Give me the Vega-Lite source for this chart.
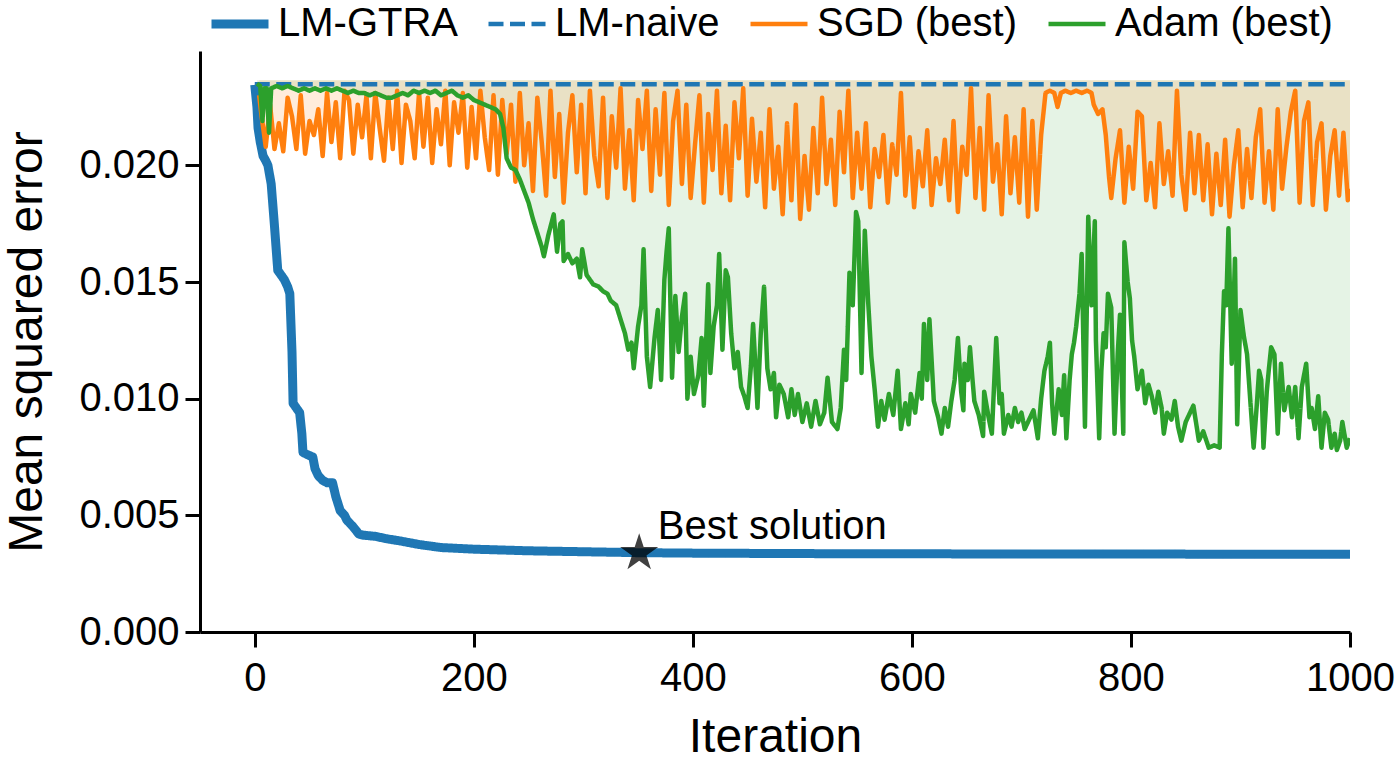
{
  "$schema": "https://vega.github.io/schema/vega-lite/v6.json",
  "width": 1150,
  "height": 581,
  "autosize": {"type": "none"},
  "padding": {"left": 200, "top": 51, "right": 48, "bottom": 136},
  "background": "white",
  "config": {
    "font": "Liberation Sans",
    "view": {"stroke": null},
    "axis": {
      "domainColor": "black", "domainWidth": 3, "tickColor": "black", "tickWidth": 3, "tickSize": 15,
      "labelFontSize": 40, "labelColor": "black", "titleFontSize": 48, "titleFontWeight": "normal",
      "titleColor": "black", "grid": false, "labelFont": "Liberation Sans", "titleFont": "Liberation Sans"
    },
    "legend": {
      "orient": "none", "legendX": 20, "legendY": -47, "direction": "horizontal",
      "symbolType": "stroke", "symbolSize": 3249, "symbolStrokeWidth": 4.5, "labelFontSize": 40,
      "labelOffset": 18, "columnPadding": 21, "padding": 0, "labelColor": "black", "labelFont": "Liberation Sans",
      "labelLimit": 400
    }
  },
  "datasets": {
    "gtra": [
      {"x":0,"y":0.02345},{"x":2,"y":0.0225},{"x":3,"y":0.0216},{"x":5,"y":0.0210},{"x":7.6,"y":0.0204},{"x":10,"y":0.0202},{"x":12,"y":0.0200},{"x":15,"y":0.0192},{"x":18,"y":0.0174},{"x":21,"y":0.0155},{"x":24,"y":0.0153},{"x":27,"y":0.0151},{"x":30,"y":0.0148},{"x":32,"y":0.0145},{"x":34,"y":0.0120},{"x":35,"y":0.0098},{"x":38,"y":0.0096},{"x":41,"y":0.0094},{"x":43,"y":0.0085},{"x":44,"y":0.0077},{"x":48,"y":0.0076},{"x":53,"y":0.0075},{"x":55,"y":0.0070},{"x":58,"y":0.0067},{"x":62,"y":0.0065},{"x":66,"y":0.0064},{"x":71,"y":0.0064},{"x":74,"y":0.0058},{"x":78,"y":0.0052},{"x":82,"y":0.0050},{"x":84,"y":0.0048},{"x":90,"y":0.0045},{"x":95,"y":0.0042},{"x":99,"y":0.00415},{"x":110,"y":0.0041},{"x":120,"y":0.0040},{"x":133,"y":0.0039},{"x":150,"y":0.00375},{"x":170,"y":0.00362},{"x":200,"y":0.00355},{"x":250,"y":0.00348},{"x":300,"y":0.00344},{"x":350,"y":0.0034},{"x":400,"y":0.00338},{"x":500,"y":0.00336},{"x":600,"y":0.00335},{"x":800,"y":0.00334},{"x":1000,"y":0.00333}
    ],
    "naive": [{"x":0,"y":0.02347},{"x":1000,"y":0.02347}],
    "sgd": [
      {"x":4,"y":0.0230},{"x":6,"y":0.0222},{"x":10,"y":0.0208},{"x":14,"y":0.0226},{"x":18,"y":0.0207},{"x":22,"y":0.0218},{"x":26,"y":0.0206},{"x":30,"y":0.0229},{"x":34,"y":0.0221},{"x":38,"y":0.0207},{"x":42,"y":0.0230},{"x":46,"y":0.0205},{"x":50,"y":0.0219},{"x":54,"y":0.0213},{"x":58,"y":0.0224},{"x":62,"y":0.0204},{"x":66,"y":0.0231},{"x":70,"y":0.0210},{"x":74,"y":0.0227},{"x":78,"y":0.0203},{"x":82,"y":0.0232},{"x":86,"y":0.0228},{"x":90,"y":0.0205},{"x":94,"y":0.0226},{"x":98,"y":0.0212},{"x":102,"y":0.0230},{"x":106,"y":0.0203},{"x":110,"y":0.0231},{"x":114,"y":0.0216},{"x":118,"y":0.0202},{"x":122,"y":0.0229},{"x":126,"y":0.0207},{"x":130,"y":0.0232},{"x":134,"y":0.0201},{"x":138,"y":0.0226},{"x":142,"y":0.0219},{"x":146,"y":0.0203},{"x":150,"y":0.0231},{"x":154,"y":0.0208},{"x":158,"y":0.0229},{"x":162,"y":0.0201},{"x":166,"y":0.0224},{"x":170,"y":0.0209},{"x":174,"y":0.0232},{"x":178,"y":0.0200},{"x":182,"y":0.0227},{"x":186,"y":0.0214},{"x":190,"y":0.0231},{"x":194,"y":0.0199},{"x":198,"y":0.0225},{"x":202,"y":0.0203},{"x":206,"y":0.0232},{"x":210,"y":0.0212},{"x":214,"y":0.0198},{"x":218,"y":0.0230},{"x":222,"y":0.0196},{"x":226,"y":0.0228},
      {"x":230,"y":0.0205},{"x":234,"y":0.0226},{"x":238,"y":0.0193},{"x":242,"y":0.0231},{"x":246,"y":0.0200},{"x":250,"y":0.0218},{"x":254,"y":0.0189},{"x":258,"y":0.0229},{"x":262,"y":0.0210},{"x":266,"y":0.0187},{"x":270,"y":0.0232},{"x":274,"y":0.0195},{"x":278,"y":0.0222},{"x":282,"y":0.0184},{"x":286,"y":0.0214},{"x":290,"y":0.0230},{"x":294,"y":0.0197},{"x":298,"y":0.0226},{"x":302,"y":0.0188},{"x":306,"y":0.0232},{"x":310,"y":0.0204},{"x":314,"y":0.0191},{"x":318,"y":0.0229},{"x":322,"y":0.0186},{"x":326,"y":0.0221},{"x":330,"y":0.0199},{"x":334,"y":0.0233},{"x":338,"y":0.0190},{"x":342,"y":0.0215},{"x":346,"y":0.0185},{"x":350,"y":0.0228},{"x":354,"y":0.0207},{"x":358,"y":0.0232},{"x":362,"y":0.0189},{"x":366,"y":0.0224},{"x":370,"y":0.0196},{"x":374,"y":0.0231},{"x":378,"y":0.0183},{"x":382,"y":0.0219},{"x":386,"y":0.0232},{"x":390,"y":0.0192},{"x":394,"y":0.0226},{"x":398,"y":0.0186},{"x":402,"y":0.0209},{"x":406,"y":0.0230},{"x":410,"y":0.0184},{"x":414,"y":0.0222},{"x":418,"y":0.0198},{"x":422,"y":0.0232},{"x":426,"y":0.0188},{"x":430,"y":0.0217},{"x":434,"y":0.0185},{"x":438,"y":0.0227},{"x":442,"y":0.0203},{"x":446,"y":0.0233},{"x":450,"y":0.0187},{"x":454,"y":0.0220},{"x":458,"y":0.0193},{"x":462,"y":0.0214},{"x":466,"y":0.0182},{"x":470,"y":0.0224},{"x":474,"y":0.0190},{"x":478,"y":0.0208},{"x":482,"y":0.0179},{"x":486,"y":0.0218},{"x":490,"y":0.0185},{"x":494,"y":0.0226},{"x":498,"y":0.0177},{"x":502,"y":0.0204},{"x":506,"y":0.0181},{"x":510,"y":0.0216},{"x":514,"y":0.0188},{"x":518,"y":0.0229},{"x":522,"y":0.0192},{"x":526,"y":0.0211},{"x":530,"y":0.0183},{"x":534,"y":0.0223},{"x":538,"y":0.0197},{"x":542,"y":0.0232},{"x":546,"y":0.0186},{"x":550,"y":0.0214},{"x":554,"y":0.0190},{"x":558,"y":0.0218},{"x":562,"y":0.0182},{"x":566,"y":0.0207},{"x":570,"y":0.0195},{"x":574,"y":0.0213},{"x":578,"y":0.0184},{"x":582,"y":0.0209},{"x":586,"y":0.0196},{"x":590,"y":0.0231},{"x":594,"y":0.0187},{"x":598,"y":0.0212},{"x":602,"y":0.0182},{"x":606,"y":0.0206},{"x":610,"y":0.0191},{"x":614,"y":0.0215},{"x":618,"y":0.0183},{"x":622,"y":0.0203},{"x":626,"y":0.0192},{"x":630,"y":0.0211},{"x":634,"y":0.0185},{"x":638,"y":0.0219},{"x":642,"y":0.0180},{"x":646,"y":0.0208},{"x":650,"y":0.0196},{"x":654,"y":0.0233},{"x":658,"y":0.0186},{"x":662,"y":0.0216},{"x":666,"y":0.0181},{"x":670,"y":0.0230},{"x":674,"y":0.0193},{"x":678,"y":0.0209},{"x":682,"y":0.0179},{"x":686,"y":0.0221},{"x":690,"y":0.0188},{"x":694,"y":0.0212},{"x":698,"y":0.0184},{"x":702,"y":0.0224},{"x":706,"y":0.0178},{"x":710,"y":0.0219},{"x":714,"y":0.0181},{"x":718,"y":0.0213},
      {"x":722,"y":0.0231},{"x":726,"y":0.0232},{"x":730,"y":0.0231},{"x":733,"y":0.0225},{"x":736,"y":0.0231},{"x":740,"y":0.0232},{"x":745,"y":0.0231},{"x":750,"y":0.0232},{"x":755,"y":0.0231},{"x":760,"y":0.0232},{"x":764,"y":0.0231},{"x":766,"y":0.0226},{"x":770,"y":0.0222},{"x":774,"y":0.0224},{"x":777,"y":0.0213},{"x":780,"y":0.0195},
      {"x":782,"y":0.0186},{"x":786,"y":0.0203},{"x":790,"y":0.0215},{"x":794,"y":0.0184},{"x":798,"y":0.0208},{"x":802,"y":0.0190},{"x":806,"y":0.0223},{"x":810,"y":0.0221},{"x":814,"y":0.0185},{"x":818,"y":0.0201},{"x":822,"y":0.0182},{"x":826,"y":0.0218},{"x":830,"y":0.0192},{"x":834,"y":0.0206},{"x":838,"y":0.0187},{"x":842,"y":0.0232},{"x":846,"y":0.0196},{"x":850,"y":0.0181},{"x":854,"y":0.0214},{"x":858,"y":0.0188},{"x":862,"y":0.0213},{"x":866,"y":0.0185},{"x":870,"y":0.0209},{"x":874,"y":0.0179},{"x":878,"y":0.0205},{"x":882,"y":0.0183},{"x":886,"y":0.0211},{"x":890,"y":0.0178},{"x":894,"y":0.0200},{"x":898,"y":0.0215},{"x":902,"y":0.0182},{"x":906,"y":0.0207},{"x":910,"y":0.0186},{"x":914,"y":0.0212},{"x":918,"y":0.0224},{"x":922,"y":0.0184},{"x":926,"y":0.0206},{"x":930,"y":0.0181},{"x":934,"y":0.0224},{"x":938,"y":0.0190},{"x":942,"y":0.0208},{"x":946,"y":0.0223},{"x":950,"y":0.0232},{"x":954,"y":0.0184},{"x":958,"y":0.0219},{"x":962,"y":0.0227},{"x":966,"y":0.0183},{"x":970,"y":0.0210},{"x":974,"y":0.0218},{"x":978,"y":0.0181},{"x":982,"y":0.0204},{"x":986,"y":0.0215},{"x":990,"y":0.0187},{"x":994,"y":0.0214},{"x":998,"y":0.0185},{"x":1000,"y":0.0190}
    ],
    "adam": [
      {"x":2,"y":0.0235},{"x":5,"y":0.0234},{"x":7,"y":0.0219},{"x":9,"y":0.0233},{"x":11,"y":0.0233},{"x":13,"y":0.0214},{"x":15,"y":0.0233},{"x":20,"y":0.0234},{"x":25,"y":0.0233},{"x":30,"y":0.0234},{"x":35,"y":0.0233},{"x":40,"y":0.0232},{"x":45,"y":0.0233},{"x":50,"y":0.0232},{"x":55,"y":0.0233},{"x":60,"y":0.0232},{"x":65,"y":0.0233},{"x":70,"y":0.0232},{"x":75,"y":0.0233},{"x":80,"y":0.0232},{"x":85,"y":0.0231},{"x":90,"y":0.0232},{"x":95,"y":0.0231},{"x":100,"y":0.0231},{"x":105,"y":0.0230},{"x":110,"y":0.0231},{"x":115,"y":0.0230},{"x":120,"y":0.0229},{"x":125,"y":0.0229},{"x":130,"y":0.0230},{"x":135,"y":0.0231},{"x":140,"y":0.0230},{"x":145,"y":0.0232},{"x":150,"y":0.0231},{"x":155,"y":0.0232},{"x":160,"y":0.0231},{"x":165,"y":0.0232},{"x":170,"y":0.0230},{"x":175,"y":0.0231},{"x":180,"y":0.0232},{"x":185,"y":0.0230},{"x":190,"y":0.0229},{"x":195,"y":0.0230},{"x":200,"y":0.0228},{"x":205,"y":0.0227},{"x":210,"y":0.0226},{"x":215,"y":0.0225},{"x":220,"y":0.0224},{"x":224,"y":0.0222},{"x":227,"y":0.0216},{"x":230,"y":0.0203},{"x":234,"y":0.0199},{"x":238,"y":0.0198},{"x":242,"y":0.0194},{"x":246,"y":0.0189},{"x":250,"y":0.0184},{"x":254,"y":0.0177},{"x":258,"y":0.0171},{"x":262,"y":0.0165},{"x":264,"y":0.0161},{"x":268,"y":0.0170},{"x":273,"y":0.0179},{"x":276,"y":0.0163},{"x":279,"y":0.0175},{"x":281,"y":0.0176},{"x":282,"y":0.0159},{"x":286,"y":0.0162},{"x":290,"y":0.0158},{"x":294,"y":0.0160},{"x":297,"y":0.0152},{"x":299,"y":0.0164},{"x":303,"y":0.0153},{"x":309,"y":0.0149},{"x":314,"y":0.0148},{"x":318,"y":0.0146},{"x":322,"y":0.0145},{"x":325,"y":0.0142},{"x":330,"y":0.0140},{"x":334,"y":0.0134},{"x":338,"y":0.0128},{"x":341,"y":0.0121},{"x":344,"y":0.0124},{"x":346,"y":0.0113},{"x":350,"y":0.0131},{"x":353,"y":0.0140},{"x":355,"y":0.0164},{"x":358,"y":0.0118},{"x":361,"y":0.0105},{"x":365,"y":0.0126},{"x":368,"y":0.0138},{"x":371,"y":0.0108},{"x":374,"y":0.0151},{"x":376,"y":0.0163},{"x":378,"y":0.0173},{"x":381,"y":0.0109},{"x":384,"y":0.0144},{"x":387,"y":0.0120},{"x":390,"y":0.0135},{"x":393,"y":0.0145},{"x":395,"y":0.0100},{"x":398,"y":0.0118},{"x":401,"y":0.0102},{"x":405,"y":0.0110},{"x":408,"y":0.0126},{"x":410,"y":0.0097},{"x":414,"y":0.0149},{"x":416,"y":0.0111},{"x":419,"y":0.0131},{"x":422,"y":0.0140},{"x":424,"y":0.0162},{"x":427,"y":0.0121},{"x":430,"y":0.0155},{"x":432,"y":0.0152},{"x":435,"y":0.0128},{"x":438,"y":0.0113},{"x":441,"y":0.0120},{"x":444,"y":0.0105},{"x":447,"y":0.0101},{"x":450,"y":0.0096},{"x":453,"y":0.0114},{"x":455,"y":0.0132},{"x":457,"y":0.0115},{"x":459,"y":0.0096},{"x":462,"y":0.0128},{"x":465,"y":0.0148},{"x":468,"y":0.0113},{"x":471,"y":0.0104},{"x":474,"y":0.0111},{"x":476,"y":0.0092},{"x":479,"y":0.0106},{"x":483,"y":0.0102},{"x":487,"y":0.0092},{"x":490,"y":0.0104},{"x":493,"y":0.0093},{"x":496,"y":0.0102},{"x":500,"y":0.0090},{"x":504,"y":0.0098},{"x":508,"y":0.0088},{"x":512,"y":0.0099},{"x":516,"y":0.0089},{"x":520,"y":0.0094},{"x":523,"y":0.0109},{"x":527,"y":0.0090},{"x":532,"y":0.0087},{"x":535,"y":0.0096},{"x":538,"y":0.0121},{"x":540,"y":0.0108},{"x":543,"y":0.0154},{"x":546,"y":0.0140},{"x":549,"y":0.0180},{"x":551,"y":0.0176},{"x":554,"y":0.0111},{"x":557,"y":0.0172},{"x":560,"y":0.0142},{"x":563,"y":0.0118},{"x":566,"y":0.0104},{"x":569,"y":0.0088},{"x":572,"y":0.0099},{"x":575,"y":0.0091},{"x":579,"y":0.0102},{"x":583,"y":0.0093},{"x":587,"y":0.0112},{"x":590,"y":0.0087},{"x":594,"y":0.0098},{"x":597,"y":0.0089},{"x":599,"y":0.0102},{"x":603,"y":0.0094},{"x":607,"y":0.0111},{"x":609,"y":0.0100},{"x":611,"y":0.0132},{"x":614,"y":0.0108},{"x":616,"y":0.0134},{"x":620,"y":0.0099},{"x":624,"y":0.0092},{"x":627,"y":0.0085},{"x":630,"y":0.0096},{"x":633,"y":0.0088},{"x":636,"y":0.0099},{"x":639,"y":0.0108},{"x":642,"y":0.0126},{"x":645,"y":0.0103},{"x":647,"y":0.0095},{"x":648,"y":0.0115},{"x":651,"y":0.0108},{"x":653,"y":0.0122},{"x":655,"y":0.0110},{"x":657,"y":0.0099},{"x":661,"y":0.0093},{"x":665,"y":0.0084},{"x":666,"y":0.0103},{"x":670,"y":0.0092},{"x":673,"y":0.0085},{"x":677,"y":0.0126},{"x":680,"y":0.0098},{"x":682,"y":0.0102},{"x":684,"y":0.0085},{"x":688,"y":0.0093},{"x":691,"y":0.0088},{"x":694,"y":0.0096},{"x":697,"y":0.0090},{"x":700,"y":0.0094},{"x":703,"y":0.0087},{"x":707,"y":0.0091},{"x":711,"y":0.0095},{"x":715,"y":0.0083},{"x":718,"y":0.0100},{"x":721,"y":0.0112},{"x":724,"y":0.0118},{"x":726,"y":0.0124},{"x":728,"y":0.0098},{"x":730,"y":0.0085},{"x":734,"y":0.0104},{"x":737,"y":0.0093},{"x":739,"y":0.0110},{"x":741,"y":0.0083},{"x":744,"y":0.0108},{"x":746,"y":0.0119},{"x":748,"y":0.0124},{"x":750,"y":0.0131},{"x":753,"y":0.0145},{"x":755,"y":0.0162},{"x":758,"y":0.0088},{"x":761,"y":0.0178},{"x":764,"y":0.0140},{"x":767,"y":0.0176},{"x":768,"y":0.0125},{"x":771,"y":0.0083},{"x":773,"y":0.0112},{"x":775,"y":0.0128},{"x":777,"y":0.0122},{"x":779,"y":0.0145},{"x":782,"y":0.0139},{"x":785,"y":0.0085},{"x":788,"y":0.0120},{"x":790,"y":0.0136},{"x":793,"y":0.0085},{"x":794,"y":0.0167},{"x":797,"y":0.0150},{"x":799,"y":0.0143},{"x":801,"y":0.0125},{"x":803,"y":0.0118},{"x":806,"y":0.0104},{"x":810,"y":0.0112},{"x":813,"y":0.0098},{"x":816,"y":0.0106},{"x":819,"y":0.0101},{"x":822,"y":0.0094},{"x":825,"y":0.0103},{"x":828,"y":0.0096},{"x":830,"y":0.0085},{"x":833,"y":0.0094},{"x":837,"y":0.0091},{"x":840,"y":0.0099},{"x":843,"y":0.0088},{"x":846,"y":0.0082},{"x":850,"y":0.0090},{"x":853,"y":0.0093},{"x":857,"y":0.0097},{"x":860,"y":0.0088},{"x":862,"y":0.0082},{"x":866,"y":0.0086},{"x":871,"y":0.0079},{"x":876,"y":0.0080},{"x":881,"y":0.0079},{"x":883,"y":0.0119},{"x":885,"y":0.0146},{"x":887,"y":0.0140},{"x":889,"y":0.0173},{"x":892,"y":0.0115},{"x":895,"y":0.0160},{"x":897,"y":0.0089},{"x":900,"y":0.0138},{"x":903,"y":0.0127},{"x":906,"y":0.0119},{"x":909,"y":0.0099},{"x":912,"y":0.0079},{"x":915,"y":0.0098},{"x":917,"y":0.0112},{"x":919,"y":0.0108},{"x":921,"y":0.0079},{"x":924,"y":0.0103},{"x":926,"y":0.0113},{"x":928,"y":0.0122},{"x":931,"y":0.0119},{"x":934,"y":0.0085},{"x":937,"y":0.0115},{"x":940,"y":0.0095},{"x":944,"y":0.0105},{"x":947,"y":0.0092},{"x":950,"y":0.0105},{"x":953,"y":0.0083},{"x":956,"y":0.0105},{"x":960,"y":0.0115},{"x":963,"y":0.0092},{"x":965,"y":0.0096},{"x":968,"y":0.0087},{"x":971,"y":0.0101},{"x":974,"y":0.0079},{"x":977,"y":0.0094},{"x":980,"y":0.0091},{"x":983,"y":0.0079},{"x":986,"y":0.0085},{"x":988,"y":0.0078},{"x":991,"y":0.0082},{"x":993,"y":0.0090},{"x":997,"y":0.0079},{"x":1000,"y":0.0083}
    ],
    "star": [{"x":351,"y":0.00338}],
    "ann": [{"x":368,"y":0.0040,"t":"Best solution"}]
  },
  "encoding": {
    "x": {"field": "x", "type": "quantitative",
      "scale": {"domain": [-50, 1000], "nice": false, "zero": false},
      "axis": {"values": [0, 200, 400, 600, 800, 1000], "format": "d", "title": "Iteration", "labelPadding": 11, "titlePadding": 15, "labelFlush": false}},
    "y": {"field": "y", "type": "quantitative",
      "scale": {"domain": [0, 0.0249], "nice": false, "zero": false},
      "axis": {"values": [0, 0.005, 0.01, 0.015, 0.02], "format": ".3f", "title": "Mean squared error", "labelPadding": 6, "titlePadding": 27}}
  },
  "layer": [
    {"data": {"name": "adam"}, "mark": {"type": "area", "color": "#2ca02c", "opacity": 0.12, "clip": true},
     "encoding": {"y2": {"datum": 0.02365}}},
    {"data": {"name": "sgd"}, "mark": {"type": "area", "color": "#ff7f0e", "opacity": 0.15, "clip": true},
     "encoding": {"y2": {"datum": 0.02365}}},
    {"data": {"name": "gtra"}, "mark": {"type": "line", "strokeWidth": 9, "clip": true, "strokeJoin": "round"},
     "encoding": {
       "color": {"datum": "LM-GTRA", "type": "nominal",
         "scale": {"domain": ["LM-GTRA", "LM-naive", "SGD (best)", "Adam (best)"], "range": ["#1f77b4", "#1f77b4", "#ff7f0e", "#2ca02c"]},
         "legend": {"title": null, "encode": {"symbols": {"update": {"strokeWidth": {"signal": "datum.value === 'LM-GTRA' ? 9 : 4.5"}}}}}},
       "strokeDash": {"datum": "LM-GTRA", "type": "nominal",
         "scale": {"domain": ["LM-GTRA", "LM-naive", "SGD (best)", "Adam (best)"], "range": [[1, 0], [15, 6.5], [1, 0], [1, 0]]},
         "legend": {"title": null}}}},
    {"data": {"name": "naive"}, "mark": {"type": "line", "strokeWidth": 4.5, "clip": true},
     "encoding": {"color": {"datum": "LM-naive", "type": "nominal"}, "strokeDash": {"datum": "LM-naive", "type": "nominal"}}},
    {"data": {"name": "sgd"}, "mark": {"type": "line", "strokeWidth": 4.5, "clip": true, "strokeJoin": "round"},
     "encoding": {"color": {"datum": "SGD (best)", "type": "nominal"}, "strokeDash": {"datum": "SGD (best)", "type": "nominal"}}},
    {"data": {"name": "adam"}, "mark": {"type": "line", "strokeWidth": 4.5, "clip": true, "strokeJoin": "round"},
     "encoding": {"color": {"datum": "Adam (best)", "type": "nominal"}, "strokeDash": {"datum": "Adam (best)", "type": "nominal"}}},
    {"data": {"name": "star"}, "mark": {"type": "point", "shape": "M0,-1L0.2245,-0.309L0.951,-0.309L0.363,0.118L0.588,0.809L0,0.382L-0.588,0.809L-0.363,0.118L-0.951,-0.309L-0.2245,-0.309Z", "filled": true, "size": 1600, "color": "black", "opacity": 0.75},
     "encoding": {}},
    {"data": {"name": "ann"}, "mark": {"type": "text", "align": "left", "baseline": "alphabetic", "fontSize": 40, "color": "black", "font": "Liberation Sans"},
     "encoding": {"text": {"field": "t"}}}
  ]
}
